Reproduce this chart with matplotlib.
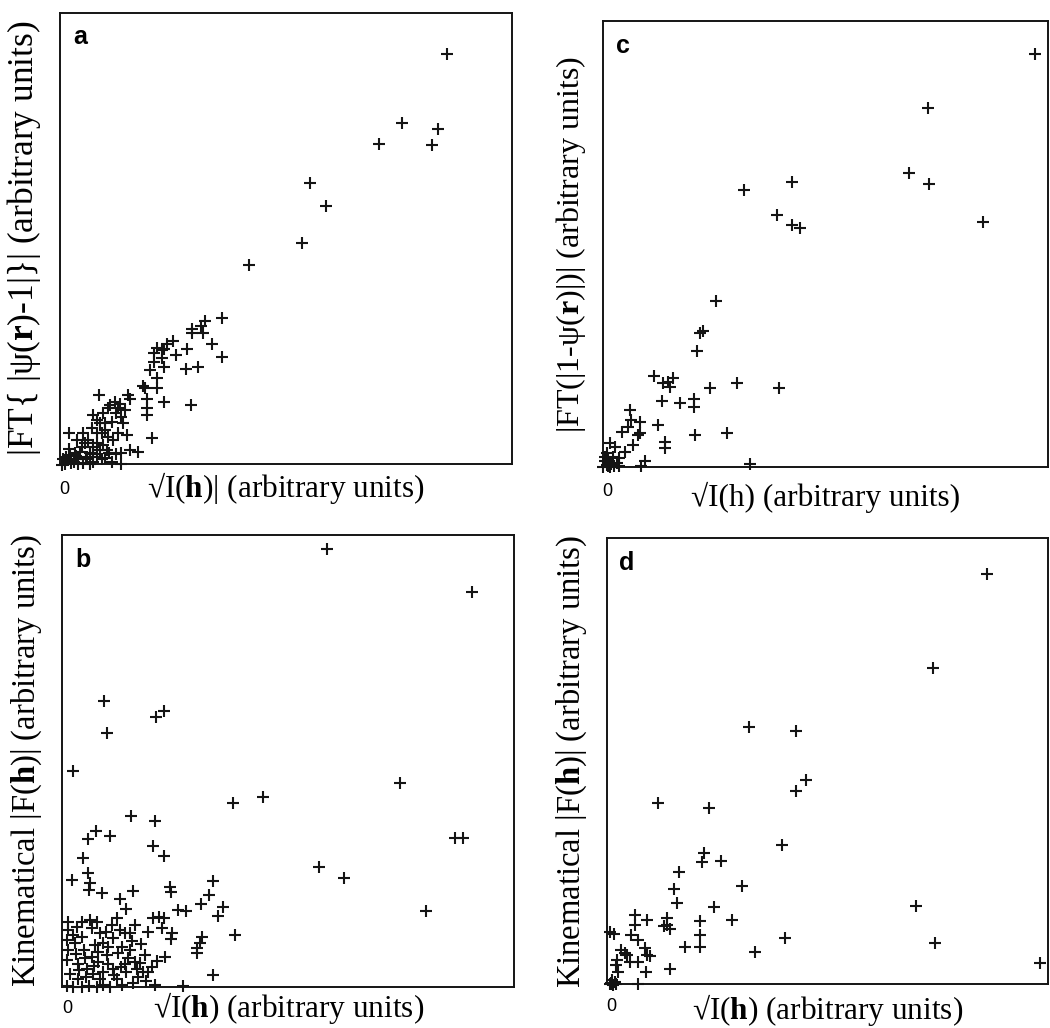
# Four scatter panels: reconstructed |F| against measured sqrt(I)
import numpy as np
import matplotlib.pyplot as plt

plt.rcParams['font.family'] = 'Liberation Serif'
plt.rcParams['mathtext.fontset'] = 'custom'
plt.rcParams['mathtext.rm'] = 'Liberation Serif'
plt.rcParams['mathtext.bf'] = 'Liberation Serif:bold'

# points, (x, y) in arbitrary units (0..100)
pts_a = np.array([
    (84.6, 90.9), (74.8, 75.6), (82.6, 74.1), (69.7, 70.9), (81.4, 70.6),
    (54.3, 62.1), (57.9, 57.2), (52.7, 49.0), (40.9, 44.0),
    (34.9, 32.2), (31.2, 31.7), (30.4, 30.5), (28.2, 29.9), (28.2, 28.9),
    (30.7, 29.0), (32.7, 26.6), (34.9, 23.7), (27.3, 25.3), (29.7, 21.3),
    (27.0, 20.9), (24.0, 27.2), (22.8, 26.6), (24.8, 24.0), (20.5, 25.5),
    (22.0, 25.3), (19.8, 24.4), (21.6, 23.3), (22.0, 21.5), (19.0, 20.7),
    (20.6, 18.9), (17.5, 17.2), (20.5, 16.7), (18.3, 14.2), (22.0, 13.7),
    (28.0, 13.0), (18.4, 10.7), (19.4, 5.6), (16.4, 2.6), (14.6, 3.0),
    (12.7, 2.3), (11.6, 2.1), (12.7, 0.0), (10.5, 0.4), (13.9, 6.3),
    (12.0, 6.7), (10.9, 5.2), (13.1, 8.9), (12.7, 10.4), (14.6, 14.4),
    (14.2, 15.2), (12.4, 13.3), (11.3, 13.7), (13.5, 11.9), (7.8, 15.2),
    (9.8, 12.2), (8.7, 11.1), (8.0, 8.9), (6.5, 10.7), (6.1, 7.8),
    (7.2, 6.7), (9.1, 7.4), (9.8, 5.9), (4.3, 6.7), (1.2, 6.7),
    (2.8, 5.2), (4.6, 4.5), (6.5, 3.7), (8.0, 3.0), (5.7, 2.3),
    (3.5, 2.6), (1.3, 1.9), (-0.2, 1.1), (0.2, 0.0), (2.1, 0.4),
    (4.3, 0.2), (6.5, 0.4), (8.3, 1.1), (-0.5, -0.3), (10.5, 9.3),
    (9.1, 8.9), (11.6, 11.1), (10.2, 13.0), (12.0, 12.2), (7.2, 9.6),
    (8.3, 6.7), (5.4, 5.2), (3.9, 3.7), (7.2, 4.5), (8.7, 4.1),
    (9.4, 3.0), (5.0, 1.5), (3.2, 1.1), (2.4, 2.3), (0.9, 0.8),
    (5.7, 0.0), (7.2, 1.5), (19.8, 22.6), (21.6, 25.2), (18.3, 12.2),
    (17.9, 16.7), (1.5, 0.2), (3.0, 0.0), (0.5, 1.5), (2.6, 1.6),
    (4.8, 0.9), (6.3, 2.0), (9.0, 1.2), (10.0, 2.4), (1.0, 3.2),
])

pts_b = np.array([
    (57.5, 96.8), (89.6, 87.3), (8.3, 63.2), (21.6, 61.1), (19.7, 59.6),
    (8.8, 56.1), (1.4, 47.7), (73.7, 45.0), (43.5, 42.0), (36.8, 40.6),
    (14.3, 37.8), (19.5, 36.7), (6.5, 34.5), (4.6, 32.6), (9.6, 33.3),
    (85.9, 33.0), (87.6, 33.0), (19.1, 31.1), (21.5, 28.9), (3.5, 28.5),
    (55.9, 26.5), (61.4, 24.0), (1.1, 23.7), (4.6, 25.1), (5.1, 23.0),
    (5.0, 21.5), (7.7, 20.8), (14.7, 21.2), (11.8, 19.5), (13.2, 17.3),
    (22.8, 22.1), (23.0, 21.0), (32.4, 23.4), (31.5, 20.4), (29.7, 18.2),
    (34.5, 17.7), (33.5, 15.6), (24.5, 17.0), (26.4, 16.7), (79.4, 16.8),
    (37.1, 11.4), (29.8, 11.0), (29.5, 9.7), (28.7, 8.5), (28.9, 7.5),
    (32.4, 2.6), (25.8, 0.1), (19.4, 0.3), (21.7, 6.6), (19.9, 5.7),
    (18.8, 4.4), (18.0, 3.3), (16.2, 5.3), (15.8, 2.2), (19.1, 15.1),
    (20.3, 15.5), (21.4, 15.1), (18.0, 12.2), (21.0, 12.9), (23.2, 11.8),
    (23.0, 10.5), (15.1, 13.6), (14.0, 11.9), (14.4, 10.2), (14.0, 8.1),
    (15.1, 5.5), (11.0, 15.1), (9.9, 13.6), (10.3, 10.7), (9.2, 8.8),
    (11.4, 7.4), (12.9, 5.1), (13.2, 3.3), (11.0, 1.8), (12.1, 0.3),
    (9.6, 0.0), (8.1, 0.3), (6.6, 0.0), (4.8, 0.1), (3.3, 0.0),
    (1.4, 0.0), (0.0, 0.1), (0.7, 2.9), (0.0, 5.9), (0.3, 8.1),
    (0.0, 10.3), (0.3, 12.5), (0.3, 14.4), (2.2, 13.3), (3.3, 11.0),
    (1.8, 9.6), (3.7, 8.1), (2.5, 5.1), (4.4, 4.0), (5.5, 6.6),
    (6.2, 9.2), (5.1, 14.7), (5.5, 12.9), (7.3, 11.8), (8.1, 9.6),
    (7.0, 5.5), (5.9, 2.9), (8.1, 3.3), (9.2, 5.1), (10.3, 4.0),
    (7.3, 1.8), (2.5, 1.8), (6.6, 14.4), (16.9, 3.3), (15.5, 4.0),
    (12.9, 11.8), (12.1, 8.8), (3.3, 14.4), (1.4, 11.4), (10.5, 2.6),
    (12.0, 4.4), (8.8, 7.0), (6.8, 7.6), (4.0, 6.4), (2.0, 7.2),
    (17.2, 7.0), (16.5, 9.4), (11.8, 12.6), (8.6, 12.2), (2.6, 3.6),
    (4.2, 2.2), (13.6, 6.4), (17.5, 1.2), (14.6, 0.8), (6.0, 4.6),
])

pts_c = np.array([
    (96.1, 92.6), (72.0, 80.4), (67.9, 65.9), (72.4, 63.4), (84.3, 54.9),
    (30.8, 62.1), (41.5, 64.0), (38.1, 56.5), (41.5, 54.3), (43.3, 53.7),
    (24.5, 37.3), (21.5, 30.5), (20.9, 30.2), (20.1, 26.1), (29.3, 18.8),
    (38.7, 17.7), (23.1, 17.7), (19.5, 15.2), (19.5, 13.4), (16.4, 14.3),
    (12.3, 14.9), (14.9, 19.9), (14.2, 18.1), (12.6, 18.8), (10.6, 20.5),
    (13.8, 19.2), (11.5, 9.5), (13.0, 5.7), (13.0, 4.3), (19.8, 7.2),
    (26.9, 7.6), (32.1, 0.7), (8.5, 1.3), (7.6, 0.2), (5.2, 12.8),
    (5.5, 10.6), (7.4, 10.2), (4.8, 9.1), (3.3, 8.0), (7.4, 7.6),
    (7.0, 7.2), (5.9, 5.0), (4.0, 3.5), (1.8, 4.6), (0.7, 5.4),
    (-0.1, 3.1), (1.4, 2.4), (-0.1, 0.5), (0.7, 0.1), (2.2, 0.9),
    (-0.4, 1.3), (1.0, 0.7), (2.6, 2.0), (-0.8, 0.1), (0.3, 0.3),
    (1.6, 0.2), (0.2, 1.8), (2.8, 0.4), (-0.5, 2.4),
])

pts_d = np.array([
    (85.1, 92.1), (72.9, 71.0), (31.3, 57.6), (42.0, 56.8), (44.1, 45.8),
    (42.0, 43.4), (10.7, 40.5), (22.2, 39.4), (38.8, 31.2), (21.1, 29.3),
    (20.7, 27.4), (24.9, 27.6), (15.4, 25.2), (14.3, 21.3), (14.9, 18.1),
    (29.7, 22.1), (23.4, 17.3), (69.1, 17.5), (73.5, 9.1), (97.2, 4.8),
    (27.3, 14.3), (20.1, 14.1), (20.1, 11.1), (20.1, 8.4), (16.7, 8.4),
    (39.4, 10.4), (32.6, 7.2), (12.6, 14.9), (12.0, 13.0), (13.3, 12.3),
    (12.6, 13.2), (13.3, 3.3), (8.1, 14.3), (5.4, 15.5), (5.4, 13.2),
    (4.5, 11.0), (6.2, 9.9), (7.7, 8.0), (8.1, 6.5), (8.8, 6.3),
    (7.9, 2.8), (6.0, 5.0), (4.3, 5.0), (3.1, 6.9), (2.2, 7.6),
    (3.5, 6.5), (1.3, 5.4), (1.1, 4.3), (1.5, 2.8), (-0.25, 11.7),
    (0.65, 11.3), (6.2, 0.0), (0.1, 0.1), (0.5, -0.2), (0.0, 0.3),
    (0.8, 0.5), (0.3, 0.8), (-0.3, 0.0), (1.0, 0.0),
])

# panel label, x label, y label
letters = ['a', 'b', 'c', 'd']
xlabels = ['√I($\\mathbf{h}$)| (arbitrary units)',
           '√I($\\mathbf{h}$) (arbitrary units)',
           '√I(h) (arbitrary units)',
           '√I($\\mathbf{h}$) (arbitrary units)']
ylabels = ['|FT{ |ψ($\\mathbf{r}$)-1|}| (arbitrary units)',
           'Kinematical |F($\\mathbf{h}$)| (arbitrary units)',
           '|FT(|1-ψ($\\mathbf{r}$)|)| (arbitrary units)',
           'Kinematical |F($\\mathbf{h}$)| (arbitrary units)']
ylabel_size = [25.5, 23.5, 23, 23.5]
all_pts = [pts_a, pts_b, pts_c, pts_d]

fig = plt.figure(figsize=(10.5, 10.28), dpi=100)
W, H = 1050, 1028
# axes boxes in pixels: left, top, right, bottom
boxes = [(59.5, 12.5, 511.7, 463.5),
         (62.3, 535.0, 514.3, 986.7),
         (602.5, 21.0, 1048.0, 467.3),
         (606.7, 538.3, 1048.0, 984.0)]
xlab_off = [24.5, 21.5, 30.0, 25.5]
zero_off = [26.5, 21.6, 24.4, 22.7]
ylab_off = [35.0, 36.0, 31.0, 34.5]

for i in range(4):
    l, t, r, b = boxes[i]
    ax = fig.add_axes([l / W, 1 - b / H, (r - l) / W, (b - t) / H])
    pts = all_pts[i]
    ax.plot(pts[:, 0], pts[:, 1], '+', color='#141414', ms=9, mew=1.5,
            clip_on=False)
    ax.set_xlim(-1, 99)
    ax.set_ylim(0, 100)
    ax.set_xticks([])
    ax.set_yticks([])
    for s in ax.spines.values():
        s.set_linewidth(1.4)
        s.set_color('#141414')
    h = b - t
    ax.text(0.045, 0.945, letters[i], transform=ax.transAxes, ha='center',
            va='center', fontsize=18, fontweight='bold', family='Liberation Sans')
    ax.text(0.5, -xlab_off[i] / h, xlabels[i], transform=ax.transAxes,
            ha='center', va='center', fontsize=22.5)
    ax.text(0, -zero_off[i] / h, '0', transform=ax.get_xaxis_transform(),
            ha='center', va='center', fontsize=13, family='Liberation Sans')
    ax.text(-ylab_off[i] / (r - l), 0.5, ylabels[i], transform=ax.transAxes,
            ha='center', va='center', rotation=90, fontsize=ylabel_size[i])

fig.savefig('out.png', dpi=100)
